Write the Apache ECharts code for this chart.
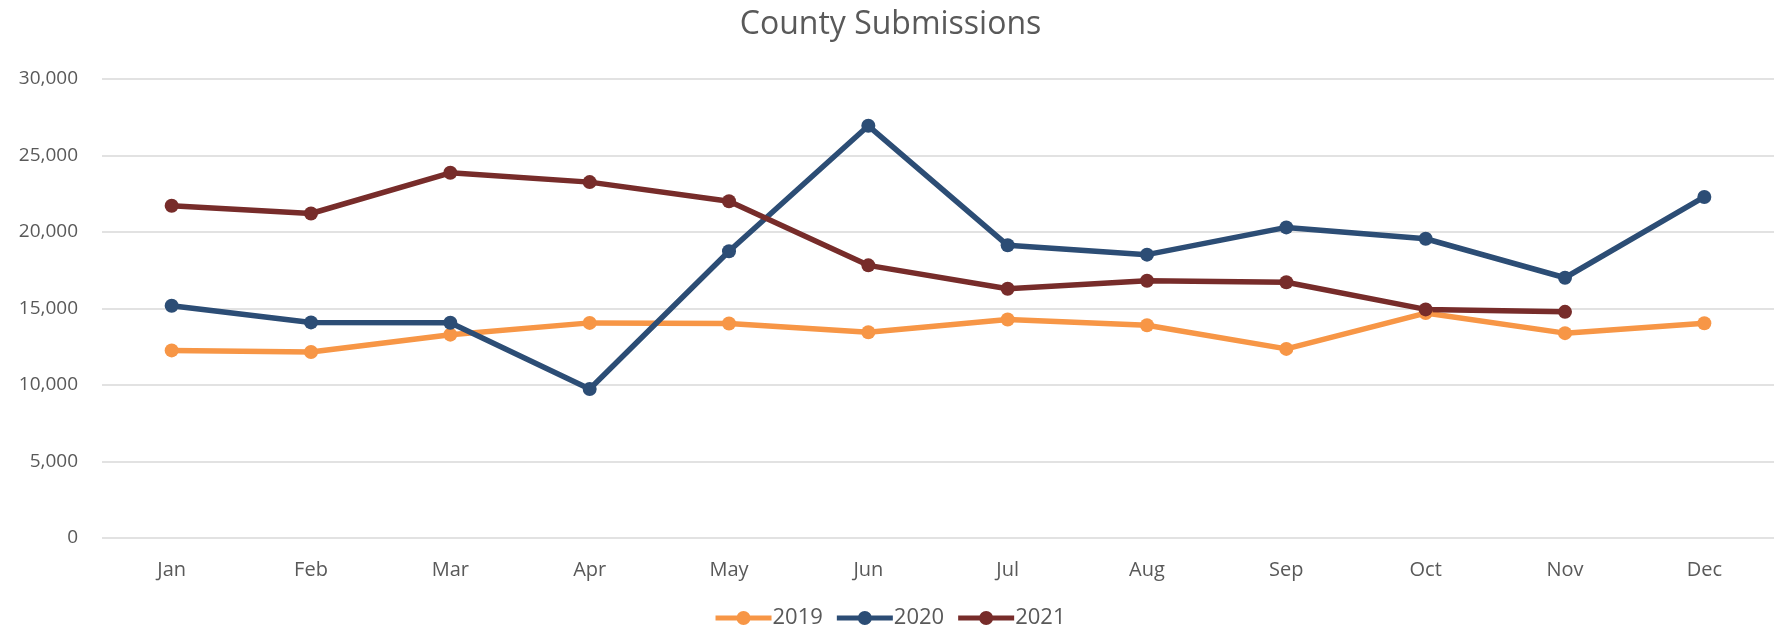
<!DOCTYPE html>
<html>
<head>
<meta charset="utf-8">
<script src="https://cdn.jsdelivr.net/npm/echarts@6/dist/echarts.min.js"></script>
<style>html,body{margin:0;padding:0;background:#fff;}#c{width:1781px;height:634px;}</style>
</head>
<body>
<div id="c"></div>
<script>
const months = ['Jan','Feb','Mar','Apr','May','Jun','Jul','Aug','Sep','Oct','Nov','Dec'];
const years = ['2019','2020','2021'];
const s2019 = [12260,12160,13290,14060,14020,13450,14280,13910,12360,14700,13390,14040];
const s2020 = [15180,14090,14070,9740,18740,26940,19130,18520,20300,19560,17010,22290];
const s2021 = [21720,21210,23870,23260,22010,17820,16290,16810,16720,14940,14780,null];
const FONT = '"Open Sans", sans-serif';
const TXT = '#595959';
const ICON = 'path://M0,4.5H56V9.5H0Z M21,7 A7,7 0 1,1 35,7 A7,7 0 1,1 21,7 Z';
const chart = echarts.init(document.getElementById('c'));
function ser(name, data, color){
  return {name:name, type:'line', data:data, color:color,
    symbol:'circle', symbolSize:14,
    lineStyle:{width:5.5, color:color}, itemStyle:{color:color}};
}
chart.setOption({
  animation:false,
  title:{text:'County Submissions', left:'center', top:4,
    textStyle:{fontFamily:FONT, fontSize:32, fontWeight:'normal', color:TXT}},
  legend:{bottom:0, left:'center', itemWidth:56, itemHeight:14, itemGap:14,
    data:years.map(y=>({name:y, icon:ICON})),
    textStyle:{fontFamily:FONT, fontSize:22, color:TXT, padding:[0,0,0,-4]}},
  grid:{left:102, right:7, top:79, bottom:96, containLabel:false},
  xAxis:{type:'category', data:months, boundaryGap:true,
    axisLine:{show:false}, axisTick:{show:false},
    axisLabel:{fontFamily:FONT, fontSize:20, color:TXT, margin:22}},
  yAxis:{type:'value', min:0, max:30000, interval:5000,
    axisLine:{show:false}, axisTick:{show:false},
    splitLine:{lineStyle:{color:'#d9d9d9', width:1.5}},
    axisLabel:{fontFamily:FONT, fontSize:19, color:TXT, margin:24,
      formatter:v=>v.toLocaleString('en-US')}},
  series:[ser(years[0], s2019, '#F79646'), ser(years[1], s2020, '#2C4D75'), ser(years[2], s2021, '#772C2A')]
});
</script>
</body>
</html>
